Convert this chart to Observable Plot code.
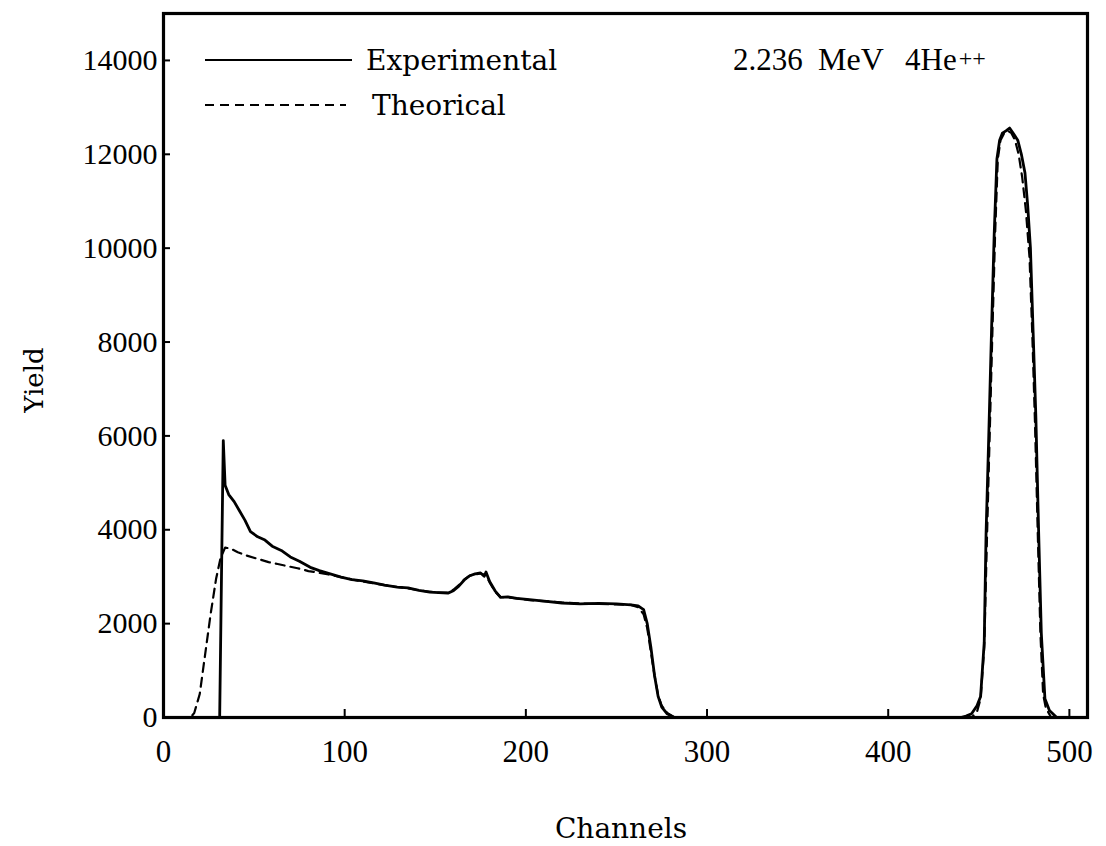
<!DOCTYPE html>
<html>
<head>
<meta charset="utf-8">
<script src="https://cdn.jsdelivr.net/npm/d3@7"></script>
<script src="https://cdn.jsdelivr.net/npm/@observablehq/plot@0.6"></script>
<style>
  html, body { margin: 0; padding: 0; background: #fff; }
  #chart svg { display: block; }
</style>
</head>
<body>
<div id="chart"></div>
<script>
// ---- Data ----
const expChannels = [0, 31, 32, 33, 34, 36, 39, 42, 45, 48, 52, 56, 60, 65, 70, 75, 81, 86, 92, 98, 104, 110, 116, 122, 129, 135, 141, 147, 152, 157, 160, 163, 166, 169, 172, 175, 177, 178, 180, 183, 186, 190, 195, 202, 210, 220, 230, 240, 250, 258, 262, 265, 267, 269, 271, 273, 275, 278, 282, 300, 440, 443, 446, 449, 451, 453, 454, 455.5, 457, 458.5, 460, 461.5, 463, 465, 467, 469, 471.5, 473.5, 475.5, 477, 478.5, 480, 481.5, 483, 484.5, 486.5, 489, 493, 510];
const expYield    = [0, 0, 3000, 5900, 4950, 4750, 4600, 4400, 4200, 3960, 3850, 3780, 3650, 3560, 3420, 3330, 3200, 3130, 3060, 2990, 2940, 2910, 2870, 2820, 2780, 2760, 2710, 2670, 2660, 2650, 2700, 2800, 2930, 3020, 3060, 3080, 3010, 3100, 2900, 2700, 2560, 2570, 2540, 2510, 2480, 2440, 2420, 2430, 2420, 2400, 2380, 2300, 2000, 1500, 900, 450, 220, 80, 0, 0, 0, 30, 80, 250, 450, 1600, 3900, 6000, 8200, 10300, 11900, 12300, 12450, 12500, 12560, 12450, 12300, 12000, 11600, 10900, 10000, 8200, 6400, 4000, 1800, 400, 150, 0, 0];

const theoChannels = [0, 15, 17, 20, 23, 26, 29, 31.5, 34, 37, 41, 46, 52, 58, 63, 69, 74, 80, 85, 92, 98, 104, 110, 116, 122, 129, 135, 141, 147, 152, 157, 160, 163, 166, 169, 172, 175, 178, 180, 183, 186, 190, 195, 202, 210, 220, 230, 240, 250, 258, 262, 265, 267, 269, 271, 273, 275, 278, 282, 300, 446, 449, 451, 453, 454.5, 456, 457.5, 459, 460.5, 462, 464, 466, 468, 470, 472, 474, 476, 478, 479.5, 481, 482.5, 484, 485.5, 487, 490, 510];
const theoYield    = [0, 0, 100, 500, 1350, 2200, 2950, 3400, 3620, 3600, 3520, 3450, 3380, 3310, 3270, 3220, 3180, 3120, 3090, 3040, 2990, 2940, 2900, 2860, 2820, 2780, 2750, 2710, 2680, 2660, 2660, 2720, 2820, 2940, 3020, 3050, 3070, 3030, 2880, 2680, 2570, 2560, 2540, 2500, 2480, 2450, 2430, 2420, 2410, 2400, 2350, 2200, 1900, 1400, 900, 480, 250, 100, 0, 0, 0, 120, 400, 1500, 3800, 6000, 8200, 10300, 11900, 12300, 12450, 12500, 12450, 12300, 12000, 11500, 10800, 9800, 8200, 6300, 4000, 1800, 500, 200, 0, 0];

const xTicks = [0, 100, 200, 300, 400, 500];
const yTicks = [0, 2000, 4000, 6000, 8000, 10000, 12000, 14000];

const seriesNames = ["Experimental", "Theorical"];
const annotationParts = ["2.236", "MeV", "4He"];
const annotationSup = "++";
const xLabel = "Channels";
const yLabel = "Yield";

// ---- Tables built from the arrays ----
const expData = expChannels.map((c, i) => ({channel: c, yield: expYield[i]}));
const theoData = theoChannels.map((c, i) => ({channel: c, yield: theoYield[i]}));

const W = 1106, H = 846;
const mL = 163, mR = 19, mT = 13, mB = 129;
const frameW = W - mL - mR, frameH = H - mT - mB;

const plot = Plot.plot({
  width: W,
  height: H,
  marginLeft: mL,
  marginRight: mR,
  marginTop: mT,
  marginBottom: mB,
  style: {fontFamily: "'Liberation Serif', serif", fontSize: "30px", background: "#fff", color: "#000"},
  x: {domain: [0, 510], label: null},
  y: {domain: [0, 15000], label: null},
  marks: [
    Plot.line(theoData, {x: "channel", y: "yield", stroke: "#000", strokeWidth: 2.2, strokeDasharray: "9,6"}),
    Plot.line(expData, {x: "channel", y: "yield", stroke: "#000", strokeWidth: 2.8}),
    Plot.tickX(xTicks, {x: d => d, stroke: "#000", strokeWidth: 2, insetTop: frameH - 8}),
    Plot.tickY(yTicks, {y: d => d, stroke: "#000", strokeWidth: 2, insetRight: frameW - 7}),
    Plot.axisX({ticks: xTicks, tickSize: 0, tickPadding: 22, fontSize: 31, label: null, tickFormat: d => String(d)}),
    Plot.axisY({ticks: yTicks, tickSize: 0, tickPadding: 6, fontSize: 30, label: null, tickFormat: d => String(d)}),
    Plot.frame({stroke: "#000", strokeWidth: 3.2})
  ]
});

document.getElementById("chart").appendChild(plot);

// ---- Legend, annotation and axis titles overlay ----
const svg = d3.select(plot);
const g = svg.append("g")
  .attr("font-family", "'DejaVu Serif', serif")
  .attr("fill", "#000")
  .attr("text-anchor", "start");

const legendRows = [
  {name: seriesNames[0], y: 60, dash: null, x2: 352, tx: 366},
  {name: seriesNames[1], y: 105, dash: "9,6", x2: 346, tx: 372}
];
legendRows.forEach(r => {
  g.append("line").attr("x1", 205).attr("x2", r.x2).attr("y1", r.y).attr("y2", r.y)
    .attr("stroke", "#000").attr("stroke-width", r.dash ? 2 : 2.2)
    .attr("stroke-dasharray", r.dash);
  g.append("text").attr("x", r.tx).attr("y", r.y + 10).attr("font-size", 28).text(r.name);
});

// annotation: "2.236  MeV  4He++"
const annX = [733, 818, 905];
const annSize = [31, 32, 31];
const ann = g.append("g").attr("font-family", "'Liberation Serif', serif");
annotationParts.forEach((t, i) => {
  const txt = ann.append("text").attr("x", annX[i]).attr("y", 70)
    .attr("font-size", annSize[i]).text(t);
  if (i === 2) txt.append("tspan").attr("font-size", 24).attr("dy", -4).attr("dx", 2).text(annotationSup);
});

g.append("text").attr("x", 621).attr("y", 838).attr("text-anchor", "middle")
  .attr("font-size", 28).text(xLabel);
g.append("text").attr("transform", "translate(43,380) rotate(-90)").attr("text-anchor", "middle")
  .attr("font-size", 26).text(yLabel);
</script>
</body>
</html>
